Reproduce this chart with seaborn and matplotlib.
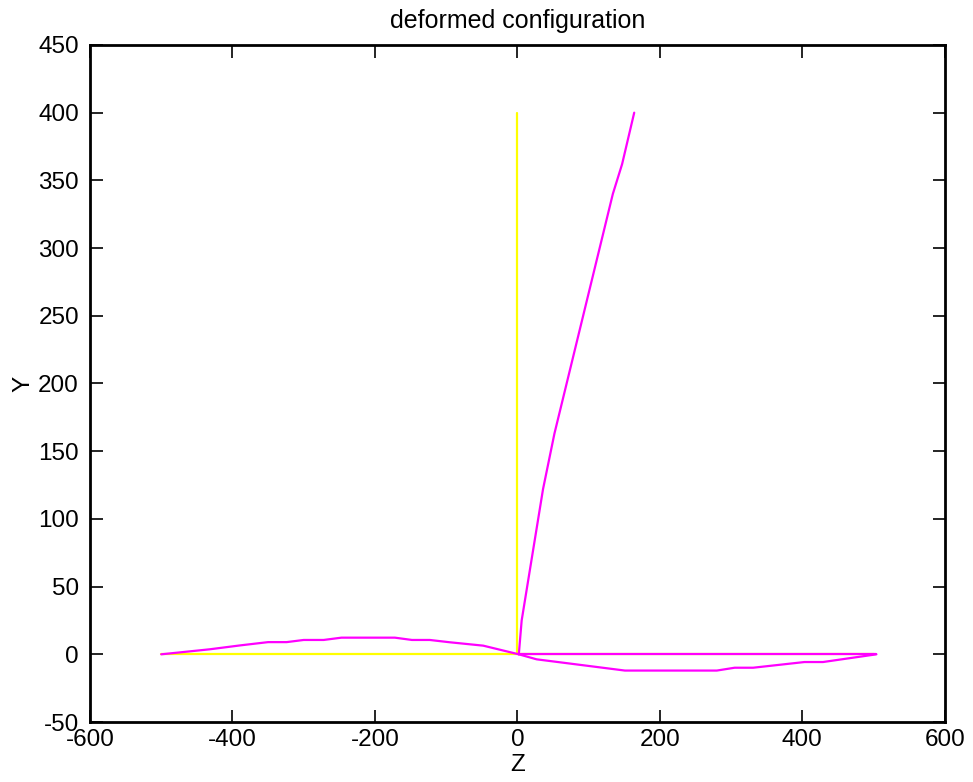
import numpy as np
import pandas as pd
import seaborn as sns
import matplotlib
matplotlib.use("Agg")
import matplotlib.pyplot as plt

# undeformed members (Z, Y)
undef_horiz_z = [-500, 500]
undef_horiz_y = [0, 0]
undef_vert_z = [0, 0]
undef_vert_y = [0, 400]

# deformed members
left_z = [-500, -432, -389, -350, -324, -300, -272, -247, -172, -148, -123, -95, -48, 2]
left_y = [0, 3.7, 6.6, 9, 9, 10.6, 10.6, 12.3, 12.3, 10.6, 10.6, 8.9, 6.4, 0]

right_low_z = [2, 27, 151, 280, 305, 331, 403, 429, 504]
right_low_y = [0, -3.7, -12, -12, -9.9, -9.9, -5.7, -5.7, 0]

right_flat_z = [2, 504]
right_flat_y = [0, 0]

vert_z = [2, 6, 36, 52, 134, 147, 164]
vert_y = [0, 25, 122, 163, 340, 362, 400]

sns.set_style("white")
plt.rcParams["font.family"] = ["Liberation Sans", "DejaVu Sans"]
plt.rcParams["axes.unicode_minus"] = False
plt.rcParams["text.color"] = "black"
plt.rcParams["axes.labelcolor"] = "black"

fig = plt.figure(figsize=(9.73, 7.82), dpi=100)
ax = fig.add_axes([0.0925, 0.0767, 0.8785, 0.8658])

def draw(z, y, color):
    df = pd.DataFrame({"Z": z, "Y": y})
    sns.lineplot(data=df, x="Z", y="Y", sort=False, estimator=None,
                 color=color, linewidth=1.6, ax=ax)

draw(undef_horiz_z, undef_horiz_y, "#ffff00")
draw(undef_vert_z, undef_vert_y, "#ffff00")
draw(left_z, left_y, "#ff00ff")
draw(right_low_z, right_low_y, "#ff00ff")
draw(right_flat_z, right_flat_y, "#ff00ff")
draw(vert_z, vert_y, "#ff00ff")

ax.set_xlim(-600, 600)
ax.set_ylim(-50, 450)
ax.set_xticks(np.arange(-600, 601, 200))
ax.set_yticks(np.arange(-50, 451, 50))
ax.tick_params(direction="in", length=9, width=1.2, bottom=True, left=True,
               top=True, right=True, labelsize=17.5, colors="black")
ax.tick_params(axis="y", pad=8)
ax.tick_params(axis="x", pad=5)
for s in ax.spines.values():
    s.set_visible(True)
    s.set_linewidth(2)
    s.set_color("black")

ax.set_xlabel("Z", fontsize=17.5, labelpad=2, color="black")
ax.set_ylabel("Y", fontsize=17.5, labelpad=3, color="black")
ax.set_title("deformed configuration", fontsize=18, pad=12, color="black")

fig.savefig("out.png", dpi=100)
